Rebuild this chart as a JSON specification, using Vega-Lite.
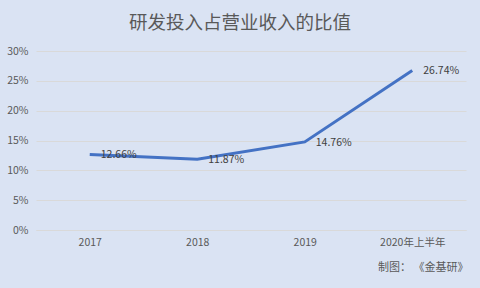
{
  "$schema": "https://vega.github.io/schema/vega-lite/v6.json",
  "autosize": {"type": "none"},
  "width": 430,
  "height": 179,
  "padding": {"left": 36, "top": 51, "right": 14, "bottom": 58},
  "background": "#DAE3F3",
  "config": {
    "view": {"stroke": null},
    "font": "Noto Sans CJK SC"
  },
  "title": {
    "text": "研发投入占营业收入的比值",
    "anchor": "middle",
    "frame": "group",
    "dx": -11,
    "offset": 14,
    "fontSize": 18.5,
    "fontWeight": "normal",
    "color": "#595959",
    "font": "Noto Sans CJK SC"
  },
  "data": {
    "values": [
      {"year": "2017", "ratio": 0.1266, "label": "12.66%"},
      {"year": "2018", "ratio": 0.1187, "label": "11.87%"},
      {"year": "2019", "ratio": 0.1476, "label": "14.76%"},
      {"year": "2020年上半年", "ratio": 0.2674, "label": "26.74%"}
    ]
  },
  "encoding": {
    "x": {
      "field": "year",
      "type": "ordinal",
      "sort": null,
      "scale": {"type": "point", "padding": 0.5},
      "axis": {
        "title": "制图： 《金基研》",
        "titleAnchor": "end",
        "titleAlign": "right",
        "titleFontSize": 11,
        "titleFontWeight": "normal",
        "titleColor": "#595959",
        "titlePadding": 14,
        "titleX": 432,
        "labelAngle": 0,
        "labelFontSize": 10.5,
        "labelColor": "#595959",
        "labelPadding": 7,
        "domain": true,
        "domainColor": "#D9D9D9",
        "ticks": false,
        "grid": false
      }
    },
    "y": {
      "field": "ratio",
      "type": "quantitative",
      "scale": {"domain": [0, 0.3]},
      "axis": {
        "title": null,
        "values": [0, 0.05, 0.1, 0.15, 0.2, 0.25, 0.3],
        "format": ".0%",
        "labelFontSize": 10.5,
        "labelColor": "#595959",
        "labelPadding": 8,
        "domain": false,
        "ticks": false,
        "grid": true,
        "gridColor": "#D9D9D9"
      }
    }
  },
  "layer": [
    {
      "mark": {"type": "line", "color": "#4472C4", "strokeWidth": 3}
    },
    {
      "mark": {
        "type": "text",
        "align": "left",
        "baseline": "middle",
        "dx": 11,
        "dy": 1,
        "fontSize": 10.5,
        "color": "#404040"
      },
      "encoding": {"text": {"field": "label"}}
    }
  ]
}
